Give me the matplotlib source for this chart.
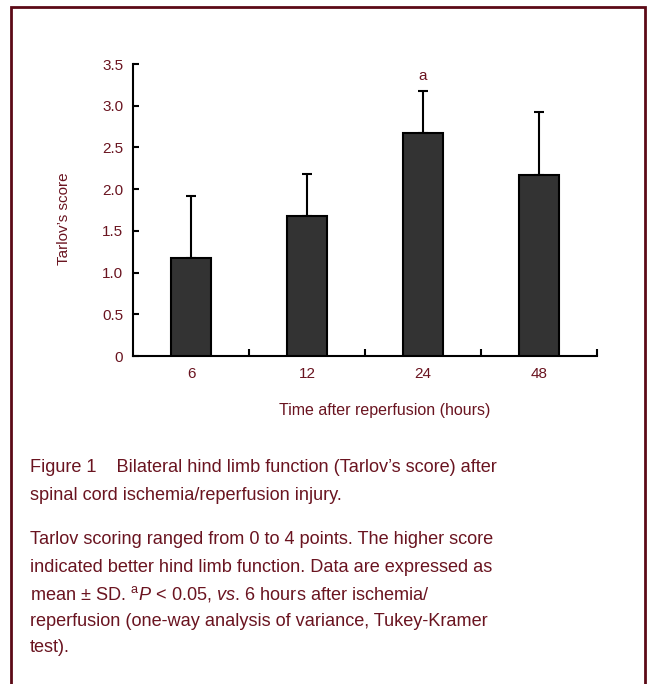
import matplotlib
matplotlib.use("Agg")
import matplotlib.pyplot as plt
from matplotlib.patches import Rectangle
import numpy as np

plt.rcParams["font.family"] = ["Liberation Sans", "DejaVu Sans"]
plt.rcParams["mathtext.fontset"] = "custom"
plt.rcParams["mathtext.rm"] = "Liberation Sans"
plt.rcParams["mathtext.it"] = "Liberation Sans:italic"

TEXT = "#6a1420"
FRAME = "#5c0a16"

hours = ["6", "12", "24", "48"]
score_mean = [1.17, 1.68, 2.67, 2.17]
score_sd = [0.75, 0.50, 0.51, 0.75]
sig_marks = ["", "", "a", ""]
y_ticks = [0, 0.5, 1.0, 1.5, 2.0, 2.5, 3.0, 3.5]
y_ticklabels = ["0", "0.5", "1.0", "1.5", "2.0", "2.5", "3.0", "3.5"]

W, H = 649, 684
fig = plt.figure(figsize=(W / 100, H / 100), dpi=100)

# maroon frame (open at bottom)
fig.patches.append(Rectangle((11 / W, -0.05), (645 - 11) / W, 1.05 - 7 / H,
                             transform=fig.transFigure, fill=False,
                             edgecolor=FRAME, linewidth=2))

ax = fig.add_axes([133 / W, 1 - 356 / H, (597 - 133) / W, (356 - 64) / H])
x = np.arange(len(hours))
ax.bar(x, score_mean, width=0.34, color="#333333", edgecolor="black",
       linewidth=1.5, zorder=3)
ax.errorbar(x, score_mean, yerr=[np.zeros(len(x)), score_sd], fmt="none",
            ecolor="black", elinewidth=1.5, capsize=3.5, capthick=1.5, zorder=2)
for xi, m, s, lab in zip(x, score_mean, score_sd, sig_marks):
    if lab:
        ax.text(xi, m + s + 0.09, lab, ha="center", va="bottom",
                fontsize=11, color=TEXT)

ax.set_xlim(-0.5, 3.5)
ax.set_ylim(0, 3.5)
ax.spines["top"].set_visible(False)
ax.spines["right"].set_visible(False)
for sp in ("left", "bottom"):
    ax.spines[sp].set_linewidth(1.5)

ax.set_yticks(y_ticks)
ax.set_yticklabels(y_ticklabels)
ax.tick_params(axis="y", direction="in", length=4, width=1.5, pad=7,
               labelsize=11, labelcolor=TEXT)
ax.set_xticks(x)
ax.set_xticklabels(hours)
ax.tick_params(axis="x", length=0, pad=8, labelsize=11, labelcolor=TEXT)
ax.set_xticks(x + 0.5, minor=True)
ax.tick_params(axis="x", which="minor", direction="in", length=5, width=1.5)

ax.set_ylabel("Tarlov\u2019s score", fontsize=11, color=TEXT)
ax.yaxis.set_label_coords(-0.133, 0.47)
fig.text(385 / W, 1 - 410 / H, "Time after reperfusion (hours)",
         ha="center", va="center", fontsize=11.5, color=TEXT)

cap_lines = [
    "Figure 1    Bilateral hind limb function (Tarlov\u2019s score) after",
    "spinal cord ischemia/reperfusion injury.",
    "Tarlov scoring ranged from 0 to 4 points. The higher score",
    "indicated better hind limb function. Data are expressed as",
    "mean \u00b1 SD. $^{\\mathrm{a}}\\mathit{P}$ < 0.05, $\\mathit{vs}$. 6 hours after ischemia/",
    "reperfusion (one-way analysis of variance, Tukey-Kramer",
    "test).",
]
cap_y = [467, 495, 540, 567, 594, 621, 648]
for txt, yy in zip(cap_lines, cap_y):
    fig.text(30 / W, 1 - yy / H, txt, ha="left", va="center",
             fontsize=13.1, color=TEXT)

fig.savefig("out.png", dpi=100)
